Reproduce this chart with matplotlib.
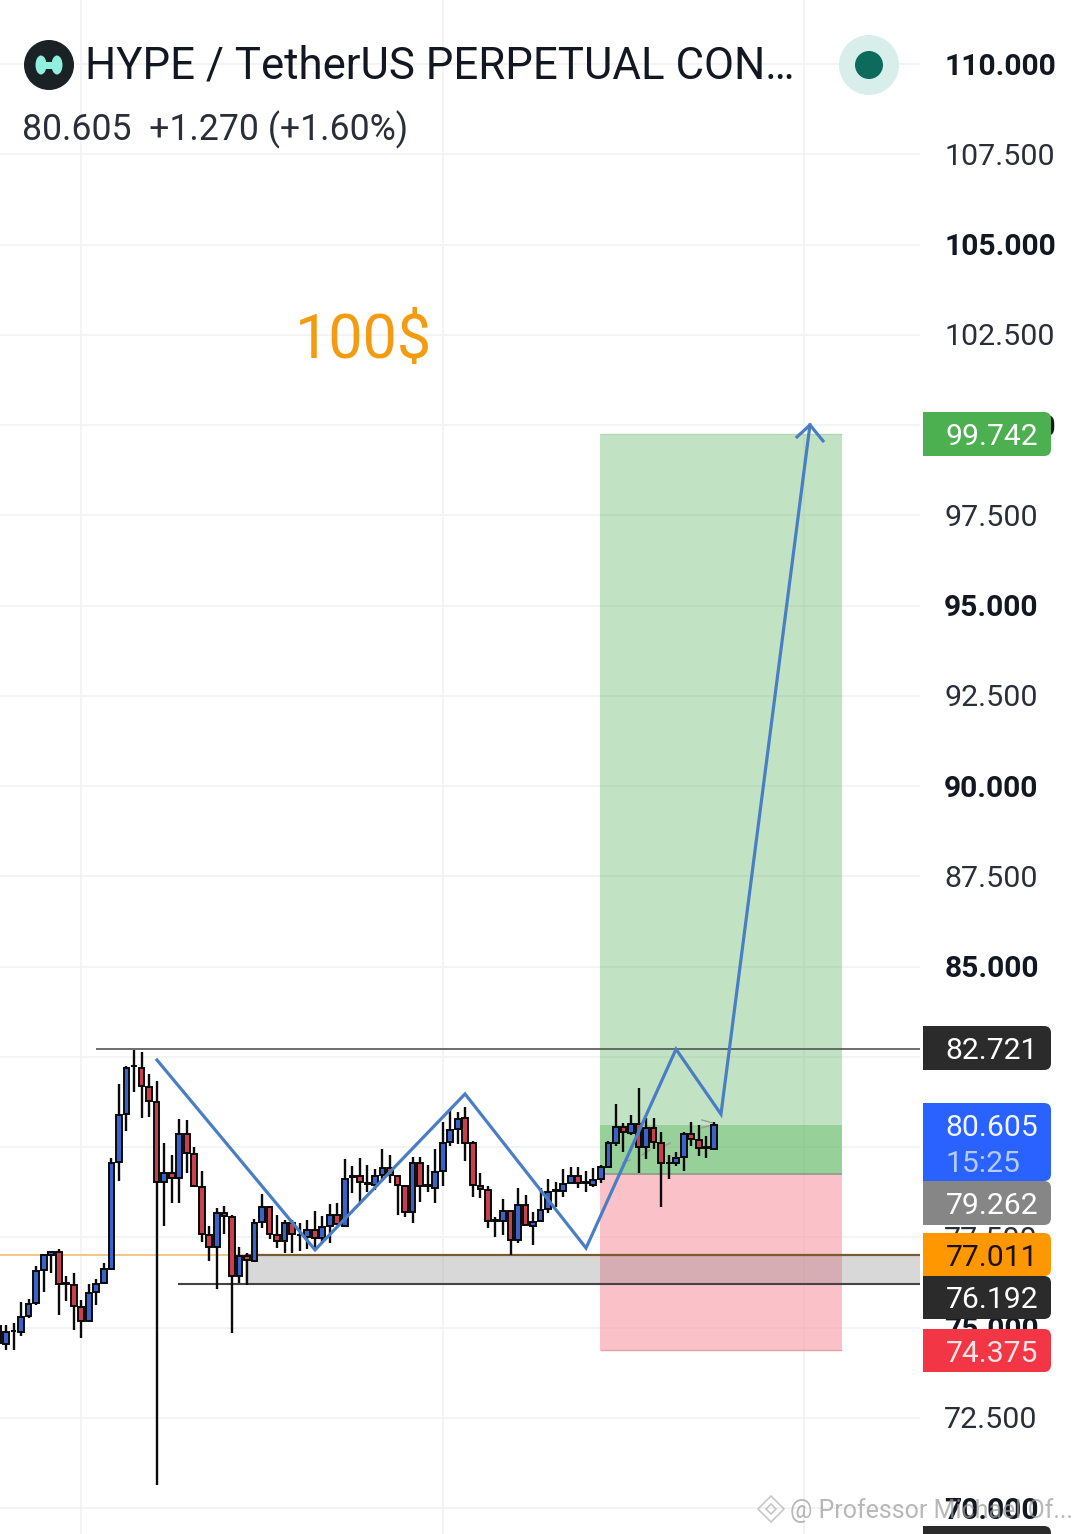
import numpy as np
import matplotlib
matplotlib.use("Agg")
import matplotlib.pyplot as plt
from matplotlib.patches import Circle, Ellipse, FancyBboxPatch, Rectangle, RegularPolygon
from matplotlib.transforms import ScaledTranslation

plt.rcParams['font.family'] = ['Roboto', 'DejaVu Sans']

opens = [75.04,74.54,74.89,74.88,75.32,75.67,76.59,77.01,77.10,76.20,
         76.18,75.58,75.18,75.97,76.22,76.62,79.58,80.91,82.23,82.20,
         81.67,81.26,79.03,79.27,79.14,80.36,79.81,78.90,77.56,77.22,
         78.18,78.07,76.43,76.98,76.84,77.93,78.35,77.56,77.40,77.90,
         77.55,77.52,77.70,77.48,77.82,78.12,77.82,79.18,79.20,78.98,
         78.94,79.22,79.42,79.20,78.92,78.20,79.55,78.92,78.86,79.34,
         80.14,80.50,80.79,80.10,78.92,78.81,77.95,77.96,78.22,77.42,
         78.39,77.82,77.96,78.29,78.79,78.79,79.00,79.20,79.01,78.94,
         79.11,79.44,80.12,80.55,80.40,80.64,80.01,80.54,80.12,79.55,
         79.57,79.73,80.36,80.19,79.97,79.95]
closes = [74.56,74.88,74.91,75.30,75.65,76.57,77.00,77.10,76.20,76.21,
          75.60,75.18,75.96,76.20,76.61,79.57,80.89,82.18,82.24,81.69,
          81.27,79.03,79.27,79.15,80.36,79.84,78.92,77.59,77.22,78.18,
          78.09,76.44,76.98,76.87,77.90,78.35,77.59,77.40,77.90,77.59,
          77.56,77.70,77.48,77.79,78.12,77.86,79.12,79.19,79.03,78.99,
          79.20,79.42,79.23,78.95,78.20,79.57,78.92,78.93,79.31,80.12,
          80.47,80.77,80.12,78.94,78.84,77.96,77.96,78.22,77.42,78.39,
          77.83,77.92,78.26,78.75,78.80,78.97,79.20,79.01,79.02,79.09,
          79.44,80.10,80.56,80.41,80.64,80.01,80.52,80.15,79.57,79.56,
          79.70,80.37,80.23,79.98,79.98,80.605]
highs = [75.07,75.07,75.12,75.72,75.78,76.70,77.04,77.13,77.17,76.43,
         76.50,75.76,76.20,76.33,76.78,79.69,81.75,82.24,82.69,82.62,
         82.02,81.83,80.10,79.78,80.77,80.75,80.01,79.34,77.81,78.30,
         78.37,78.11,77.22,77.05,78.00,78.70,78.37,78.12,77.98,77.98,
         77.89,77.98,78.23,78.09,78.42,78.44,79.66,79.47,79.69,79.50,
         79.39,79.94,79.78,79.22,78.94,79.71,79.71,79.50,79.94,80.70,
         81.04,80.98,81.10,80.18,79.27,78.92,78.05,78.55,78.23,78.86,
         78.66,78.20,78.86,79.10,79.03,79.38,79.44,79.44,79.33,79.41,
         79.50,80.18,81.18,80.67,80.89,81.63,80.79,80.79,80.42,79.77,
         79.87,80.42,80.70,80.61,80.31,80.68]
lows = [74.47,74.38,74.38,74.76,75.25,75.62,75.99,76.50,75.35,75.74,
        74.93,74.70,75.16,75.62,76.20,76.59,79.07,80.45,81.53,80.79,
        80.82,70.64,77.82,78.44,78.44,79.27,78.90,77.38,76.85,76.06,
        77.59,74.84,76.22,76.18,76.82,77.77,77.44,77.19,77.07,77.05,
        77.13,77.17,77.19,77.33,77.33,77.84,77.81,78.72,78.49,78.76,
        78.81,79.07,78.99,78.11,78.05,77.90,78.49,78.76,78.46,78.92,
        80.04,80.07,79.62,78.62,78.58,77.75,77.52,77.57,77.01,77.33,
        77.81,77.29,77.93,78.18,78.35,78.62,78.99,78.86,78.76,78.90,
        79.01,79.41,80.03,79.87,80.33,79.29,79.66,79.94,78.33,79.10,
        79.46,79.34,80.03,79.75,79.70,79.91]

# drawn path + arrow head, x in bars
path_x = [20.05, 41.04, 60.96, 77.03, 88.98, 94.95, 106.77]
path_y = [82.41, 77.15, 81.47, 77.20, 82.71, 80.91, 100.0]
head_x = [105.05, 106.77, 108.5]
head_y = [99.67, 100.0, 99.56]

# faint gray dashes behind the last candles
hint_x = [[81.9, 82.9], [84.5, 85.5], [87.2, 88.2], [92.4, 93.8], [92.4, 93.8]]
hint_y = [[79.56, 79.64], [79.78, 79.92], [80.00, 80.11], [80.53, 80.61], [80.75, 80.67]]

entry, target, stop, last_price = 79.262, 99.742, 74.375, 80.605
zone_top, zone_bottom, resistance = 77.011, 76.192, 82.721
grid_bars = [10, 58, 106]
price_ticks = np.arange(70, 110.1, 2.5)

badge_rows = [
    ("99.742", 412, 456, "#4caf50", "white"),
    ("82.721", 1026, 1070, "#2b2b2b", "white"),
    ("79.262", 1181, 1225, "#868686", "white"),
    ("77.011", 1233, 1276, "#ff9800", "#1a1206"),
    ("76.192", 1276, 1319, "#2b2b2b", "white"),
    ("74.375", 1329, 1372, "#f23645", "#fde4e6"),
]

fig = plt.figure(figsize=(10.8, 15.34), dpi=100, facecolor="white")

# chart axes: 7.53 px per bar, 36.1 px per price unit
ax = fig.add_axes([0, 0, 920 / 1080, 1])
ax.set_xlim(-6 / 7.53, 914 / 7.53)
ax.set_ylim(110 - 1470 / 36.1, 110 + 64 / 36.1)
for s in ax.spines.values():
    s.set_visible(False)
ax.xaxis.set_visible(False)
ax.yaxis.tick_right()
ax.set_yticks(price_ticks)
ax.set_yticklabels([f"{p:.3f}" for p in price_ticks])
ax.tick_params(axis="y", length=0, pad=17.4, labelsize=21.9, labelcolor="#2a2e39")
up_half = ScaledTranslation(0, 0.5 / 100, fig.dpi_scale_trans)
for p, lab in zip(price_ticks, ax.get_yticklabels()):
    lab.set_transform(lab.get_transform() + up_half)
    if p % 5 == 0:
        lab.set_fontweight("bold")
        lab.set_fontsize(21.6)
        lab.set_color("#131722")
ax.hlines(price_ticks, -1, 122, color="#f1f2f3", lw=1.2, zorder=0)
ax.vlines(grid_bars, 60, 115, color="#f1f2f3", lw=1.2, zorder=0)

# risk/reward box
ax.add_patch(Rectangle((78.9, entry), 32.1, target - entry, fc="#4caf50", alpha=0.34, lw=0, zorder=1))
ax.add_patch(Rectangle((78.9, entry), 32.1, last_price - entry, fc="#4caf50", alpha=0.35, lw=0, zorder=1))
ax.add_patch(Rectangle((78.9, stop), 32.1, entry - stop, fc="#f9a0ac", alpha=0.65, lw=0, zorder=1))
ax.hlines(entry, 78.9, 111, color="#8a9a8a", lw=1.2, zorder=1)
ax.hlines(stop, 78.9, 111, color="#e8a0a8", lw=1, zorder=1)
ax.hlines(target, 78.9, 111, color="#b4d6b2", lw=1, zorder=1)

# support zone
ax.add_patch(Rectangle((31.74, zone_bottom), 90, zone_top - zone_bottom, fc="#808080", alpha=0.3, lw=0, zorder=1.5))
ax.hlines(zone_top, -1, 31.74, color="#f5c27a", lw=1.3, zorder=1.6)
ax.hlines(zone_top, 31.74, 122, color="#7a5a30", lw=1.6, zorder=1.6)
ax.hlines(zone_bottom, 22.84, 122, color="#444444", lw=1.5, zorder=1.6)
ax.hlines(resistance, 11.95, 122, color="#555555", lw=1.2, zorder=1.6)

for hx, hy in zip(hint_x, hint_y):
    ax.plot(hx, hy, color="#9a9a9a", lw=1, zorder=2)

# candles
bars = np.arange(len(opens)) - 1
o, c = np.array(opens), np.array(closes)
cols = np.where(c >= o, "#3a62c9", "#c8404e")
ax.vlines(bars, lows, highs, color="#0a0a0a", lw=1.7, zorder=3)
ax.bar(bars, np.maximum(np.abs(c - o), 0.02), bottom=np.minimum(o, c), width=0.76,
       color=cols, edgecolor="#0a0a0a", linewidth=1.4, zorder=4)

ax.plot(path_x, path_y, color="#4a7ec4", lw=2.3, solid_joinstyle="miter", zorder=5)
ax.plot(head_x, head_y, color="#4a7ec4", lw=2.3, solid_joinstyle="miter", zorder=5)

# overlay in pixel coords for header and price badges
ui = fig.add_axes([0, 0, 1, 1], facecolor="none")
ui.set_xlim(0, 1080)
ui.set_ylim(1534, 0)
ui.axis("off")


def badge(y0, y1, color):
    ui.add_patch(FancyBboxPatch((923, y0), 128, y1 - y0, boxstyle="round,pad=0,rounding_size=7",
                                fc=color, lw=0, mutation_aspect=1))
    ui.add_patch(Rectangle((923, y0), 20, y1 - y0, fc=color, lw=0))


for txt, y0, y1, col, tc in badge_rows:
    badge(y0, y1, col)
    ui.text(945.5, (y0 + y1) / 2, txt, color=tc, fontsize=21.7, va="center_baseline", ha="left")

badge(1103, 1181, "#2962ff")
ui.text(945.5, 1125.5, "80.605", color="#f2f5ff", fontsize=21.7, va="center_baseline")
ui.text(945.5, 1160.5, "15:25", color="#b4ccff", fontsize=21.7, va="center_baseline")
badge(1526, 1560, "#2b2b2b")

# header
ui.add_patch(Circle((49, 65), 25, fc="#1b2226", lw=0))
ui.add_patch(Ellipse((41, 65), 11, 19, fc="#8ff0dd", lw=0))
ui.add_patch(Ellipse((57, 65), 11, 19, fc="#8ff0dd", lw=0))
ui.add_patch(Rectangle((41, 61.5), 16, 7, fc="#8ff0dd", lw=0))
ui.text(85, 62, "HYPE / TetherUS PERPETUAL CON…", fontsize=31.5, color="#131722", va="center_baseline")
ui.text(22, 125.5, "80.605  +1.270 (+1.60%)", fontsize=25.65, color="#2a2e39", va="center_baseline")
ui.add_patch(Circle((869, 65), 30, fc="#d8eeeb", lw=0))
ui.add_patch(Circle((869, 65), 14, fc="#0c6b5b", lw=0))
ui.text(363, 335, "100$", fontsize=44, color="#f39c12", ha="center", va="center_baseline")

# watermark
wm = "#9a9a9a"
ui.add_patch(RegularPolygon((771, 1509), 4, radius=13, fill=False, ec=wm, lw=1.2, alpha=0.55))
ui.add_patch(RegularPolygon((771, 1509), 4, radius=5, fill=False, ec=wm, lw=1.2, alpha=0.55))
ui.text(790, 1508, "@ Professor Michael Of...", fontsize=18, color=wm, alpha=0.7, va="center_baseline")

fig.savefig("out.png", dpi=100)
